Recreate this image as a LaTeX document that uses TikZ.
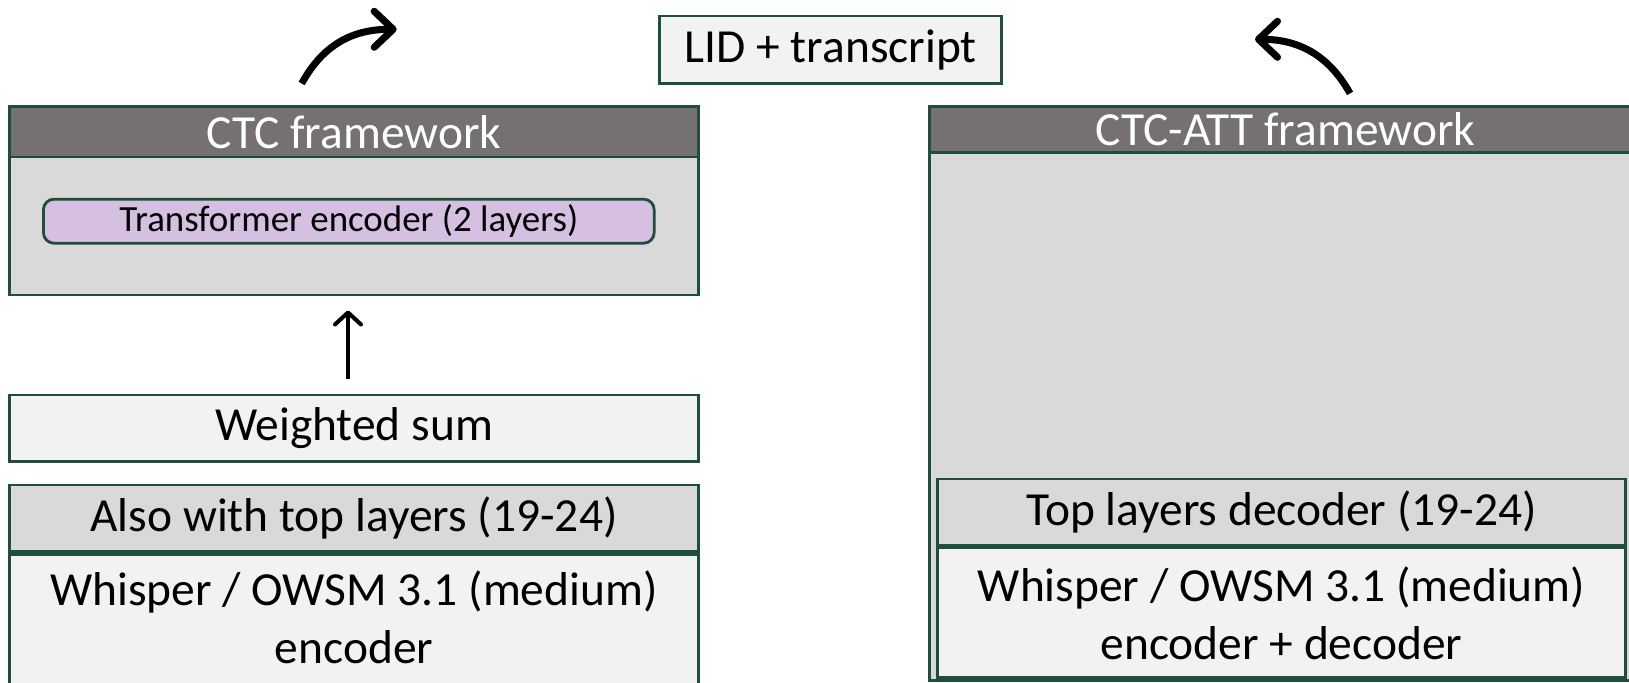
\documentclass[tikz,border=0pt]{standalone}
\usepackage{fontspec}
\setmainfont{Carlito}
\usepackage{xcolor}
\usetikzlibrary{arrows.meta, positioning, calc}

\definecolor{framegreen}{HTML}{1F4E3D}
\definecolor{headgray}{HTML}{767171}
\definecolor{bodygray}{HTML}{D9D9D9}
\definecolor{paleface}{HTML}{F2F2F2}
\definecolor{lavender}{HTML}{D5C0E2}

\begin{document}
\begin{tikzpicture}[
        x=0.01cm, y=0.01cm,
        box/.style={
            rectangle,
            draw=framegreen,
            line width=0.8pt,
            inner sep=0pt,
            align=center,
            font=\fontsize{13.5}{16.5}\selectfont
        },
        header/.style={box, fill=headgray, text=white},
        panel/.style={box, fill=bodygray},
        plain/.style={box, fill=paleface},
        layer/.style={box, fill=lavender, rounded corners=3pt, font=\fontsize{10.5}{12.5}\selectfont},
        bigarrow/.style={-{Straight Barb[length=1.9mm, width=3.6mm, round]}, line width=2pt},
        smallarrow/.style={-{Straight Barb[length=1.2mm, width=2.6mm, round]}, line width=1.15pt}
    ]
        \useasboundingbox (0,0) rectangle (1629,-683);
        \clip (0,0) rectangle (1629,-683);

        % CTC side
        \node[panel, minimum width=6.88cm, minimum height=1.883cm] (ctc) at (354,-200.85) {};
        \node[header, minimum width=6.88cm, minimum height=0.503cm, anchor=north] (ctchead) at (ctc.north) {CTC framework};
        \node[layer, minimum width=6.104cm, minimum height=0.44cm] (trans) at (348.8,-221.2) {Transformer encoder (2 layers)};
        \node[plain, minimum width=6.88cm, minimum height=0.667cm] (wsum) at (354,-428.35) {Weighted sum};
        \node[panel, minimum width=6.88cm, minimum height=0.667cm] (alsohead) at (354,-518.35) {Also with top layers (19-24)};
        \node[plain, minimum width=6.88cm, minimum height=1.6cm, text depth=0.34cm, anchor=north] (whenc) at (alsohead.south) {Whisper / OWSM 3.1 (medium)\\encoder};

        % CTC-ATT side
        \node[panel, minimum width=7.11cm, minimum height=5.733cm] (att) at (1285.5,-393.35) {};
        \node[header, minimum width=7.11cm, minimum height=0.46cm, anchor=north] (atthead) at (att.north) {CTC-ATT framework};
        \node[panel, minimum width=6.87cm, minimum height=0.66cm] (toplay) at (1281.5,-512) {Top layers decoder (19-24)};
        \node[plain, minimum width=6.87cm, minimum height=1.30cm, anchor=north] (whencdec) at (toplay.south) {Whisper / OWSM 3.1 (medium)\\encoder + decoder};

        % Output
        \node[plain, minimum width=3.417cm, minimum height=0.673cm] (lid) at (830.85,-49.65) {LID + transcript};

        % Arrows
        \coordinate (ctcup) at ([xshift=-0.523cm, yshift=0.217cm]ctchead.north);
        \coordinate (ctcend) at (396.7,-29.3);
        \coordinate (attup) at ([xshift=0.645cm, yshift=0.117cm]atthead.north);
        \coordinate (attend) at (1255,-39.3);

        \draw[smallarrow] ([xshift=-0.06cm, yshift=0.15cm]wsum.north) -- ([xshift=-0.06cm, yshift=-0.14cm]ctc.south);
        \draw[bigarrow] (ctcup) .. controls (325,-41) and (357,-29.3) .. (ctcend);
        \draw[bigarrow] (attup) .. controls (1327,-52) and (1295,-39.3) .. (attend);

    \end{tikzpicture}
\end{document}
